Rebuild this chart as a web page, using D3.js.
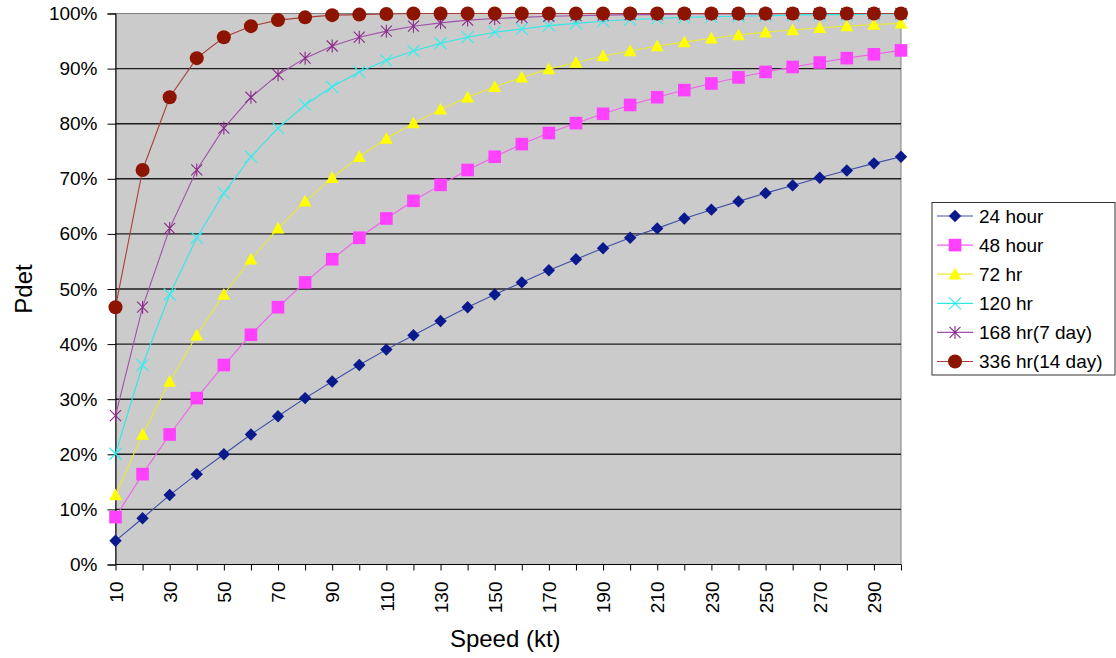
<!DOCTYPE html>
<html>
<head>
<meta charset="utf-8">
<script src="https://cdn.jsdelivr.net/npm/d3@7"></script>
<style>
  html, body { margin: 0; padding: 0; background: #fff; }
  svg { display: block; font-family: "Liberation Sans", Arial, sans-serif; }
</style>
</head>
<body>
<svg id="chart" width="1116" height="658"></svg>
<script>
// Speed categories (kt)
const speeds = [10, 20, 30, 40, 50, 60, 70, 80, 90, 100,
                110, 120, 130, 140, 150, 160, 170, 180, 190, 200,
                210, 220, 230, 240, 250, 260, 270, 280, 290, 300];

// Probability of detection (%) per elapsed time
const pdet24 = [4.3, 8.4, 12.6, 16.4, 20.0, 23.6, 26.9, 30.2, 33.2, 36.2,
                39.0, 41.6, 44.2, 46.7, 49.0, 51.2, 53.4, 55.4, 57.4, 59.3,
                61.0, 62.8, 64.4, 65.9, 67.4, 68.8, 70.2, 71.5, 72.8, 74.0];
const pdet48 = [8.6, 16.4, 23.6, 30.2, 36.2, 41.7, 46.7, 51.2, 55.4, 59.3,
                62.8, 66.0, 68.9, 71.6, 74.0, 76.3, 78.3, 80.1, 81.8, 83.4,
                84.8, 86.1, 87.3, 88.4, 89.4, 90.3, 91.1, 91.9, 92.6, 93.3];
const pdet72 = [12.6, 23.6, 33.2, 41.6, 49.0, 55.4, 61.0, 65.9, 70.2, 74.0,
                77.3, 80.1, 82.6, 84.8, 86.7, 88.4, 89.9, 91.1, 92.3, 93.2,
                94.1, 94.8, 95.5, 96.1, 96.6, 97.0, 97.4, 97.7, 98.0, 98.2];
const pdet120 = [20.1, 36.2, 49.0, 59.3, 67.4, 74.0, 79.2, 83.4, 86.7, 89.4,
                 91.5, 93.2, 94.6, 95.7, 96.6, 97.2, 97.8, 98.2, 98.6, 98.9,
                 99.1, 99.3, 99.4, 99.5, 99.6, 99.7, 99.8, 99.8, 99.9, 99.9];
const pdet168 = [27.0, 46.7, 61.0, 71.6, 79.2, 84.8, 88.9, 91.9, 94.1, 95.7,
                 96.8, 97.7, 98.3, 98.8, 99.1, 99.3, 99.5, 99.6, 99.7, 99.8,
                 99.8, 99.9, 99.9, 99.9, 99.9, 100, 100, 100, 100, 100];
const pdet336 = [46.7, 71.6, 84.8, 91.9, 95.7, 97.7, 98.8, 99.3, 99.7, 99.8,
                 99.9, 100, 100, 100, 100, 100, 100, 100, 100, 100,
                 100, 100, 100, 100, 100, 100, 100, 100, 100, 100];

const seriesNames = ["24 hour", "48 hour", "72 hr", "120 hr", "168 hr(7 day)", "336 hr(14 day)"];
const seriesValues = [pdet24, pdet48, pdet72, pdet120, pdet168, pdet336];

const yTicks = [0, 10, 20, 30, 40, 50, 60, 70, 80, 90, 100];
const xLabelSpeeds = [10, 30, 50, 70, 90, 110, 130, 150, 170, 190, 210, 230, 250, 270, 290];

// Appearance of each series
const styles = [
  { line: "#3f4fa6", fill: "#0a1a8c", shape: "diamond" },
  { line: "#f060f0", fill: "#ff40ff", shape: "square" },
  { line: "#eaea30", fill: "#ffff00", shape: "triangle" },
  { line: "#30e8e8", fill: "#30f0f0", shape: "x" },
  { line: "#a050a8", fill: "#8a2a8a", shape: "star" },
  { line: "#a84038", fill: "#8c1400", shape: "circle" }
];

const svg = d3.select("#chart");
const plot = { left: 115.5, right: 901, top: 13.5, bottom: 564.5 };

const x = d3.scalePoint().domain(speeds).range([plot.left, plot.right]).padding(0);
const y = d3.scaleLinear().domain([0, 100]).range([plot.bottom, plot.top]);

// Plot area background with grey border
svg.append("rect")
  .attr("x", plot.left).attr("y", plot.top)
  .attr("width", plot.right - plot.left).attr("height", plot.bottom - plot.top)
  .attr("fill", "#cbcbcb").attr("stroke", "#808080").attr("stroke-width", 1);

// Horizontal gridlines
svg.append("g")
  .selectAll("line")
  .data(yTicks.filter(t => t > 0 && t < 100))
  .join("line")
  .attr("x1", plot.left).attr("x2", plot.right)
  .attr("y1", d => y(d)).attr("y2", d => y(d))
  .attr("stroke", "#1e1e1e").attr("stroke-width", 1.4);

// Y axis
const yAxis = d3.axisLeft(y).tickValues(yTicks).tickSize(8).tickPadding(10)
  .tickFormat(d => d + "%");
const gy = svg.append("g").attr("transform", `translate(${plot.left},0)`).call(yAxis);
gy.select(".domain").attr("stroke", "#000");
gy.selectAll(".tick line").attr("stroke", "#000");
gy.selectAll("text").attr("font-size", 19).attr("fill", "#000")
  .attr("font-family", "'Liberation Sans', Arial, sans-serif");

// X axis: a tick at every category, labels on every other one
const xAxis = d3.axisBottom(x).tickSize(6).tickSizeOuter(0)
  .tickFormat(d => xLabelSpeeds.includes(d) ? d : "");
const gx = svg.append("g").attr("transform", `translate(0,${plot.bottom})`).call(xAxis);
gx.select(".domain").attr("stroke", "#000").attr("d", `M${plot.left},0H${plot.right}`);
gx.selectAll(".tick line").attr("stroke", "#000");
gx.selectAll("text")
  .attr("font-size", 19).attr("fill", "#000")
  .attr("font-family", "'Liberation Sans', Arial, sans-serif")
  .attr("text-anchor", "end")
  .attr("dy", "0.35em")
  .attr("transform", "translate(0,10) rotate(-90)")
  .attr("x", -7).attr("y", 0);

// Marker shapes
function markerPath(shape) {
  switch (shape) {
    case "diamond": return "M0,-6.2L6.2,0L0,6.2L-6.2,0Z";
    case "square": return "M-6.3,-6.3H6.3V6.3H-6.3Z";
    case "triangle": return "M0,-6.6L6.4,5.2H-6.4Z";
    case "x": return "M-6,-6L6,6M-6,6L6,-6";
    case "star": return "M-5.5,-5.5L5.5,5.5M-5.5,5.5L5.5,-5.5M0,-6.5V6.5";
    case "circle": return d3.symbol(d3.symbolCircle, Math.PI * 7 * 7)();
  }
}
function drawMarker(sel, st) {
  const p = sel.append("path").attr("d", markerPath(st.shape));
  if (st.shape === "x" || st.shape === "star") {
    p.attr("fill", "none").attr("stroke", st.fill).attr("stroke-width", 1.1);
  } else {
    p.attr("fill", st.fill).attr("stroke", "none");
  }
}

// Series lines and markers
const line = d3.line().x(d => x(d.s)).y(d => y(d.v));
seriesValues.forEach((vals, i) => {
  const st = styles[i];
  const pts = speeds.map((s, j) => ({ s, v: vals[j] }));
  const g = svg.append("g").attr("class", "series");
  g.append("path").datum(pts).attr("d", line)
    .attr("fill", "none").attr("stroke", st.line).attr("stroke-width", 1.1);
  g.selectAll("g.pt").data(pts).join("g").attr("class", "pt")
    .attr("transform", d => `translate(${x(d.s)},${y(d.v)})`)
    .each(function () { drawMarker(d3.select(this), st); });
});

// Axis titles
svg.append("text")
  .attr("x", (plot.left + plot.right) / 2 - 3).attr("y", 647)
  .attr("text-anchor", "middle").attr("font-size", 24).attr("fill", "#000")
  .text("Speed (kt)");
svg.append("text")
  .attr("transform", `translate(32,${(plot.top + plot.bottom) / 2}) rotate(-90)`)
  .attr("text-anchor", "middle").attr("font-size", 24).attr("fill", "#000")
  .text("Pdet");

// Legend
const legend = svg.append("g");
legend.append("rect")
  .attr("x", 932).attr("y", 202.5).attr("width", 183).attr("height", 172.5)
  .attr("fill", "#fff").attr("stroke", "#333").attr("stroke-width", 1);
seriesNames.forEach((name, i) => {
  const cy = 216 + i * 29.1;
  const st = styles[i];
  const row = legend.append("g");
  row.append("line").attr("x1", 937).attr("x2", 973).attr("y1", cy).attr("y2", cy)
    .attr("stroke", st.line).attr("stroke-width", 1.2);
  drawMarker(row.append("g").attr("transform", `translate(955,${cy})`), st);
  row.append("text").attr("x", 979).attr("y", cy).attr("dy", "0.36em")
    .attr("font-size", 19).attr("fill", "#000").text(name);
});
</script>
</body>
</html>
